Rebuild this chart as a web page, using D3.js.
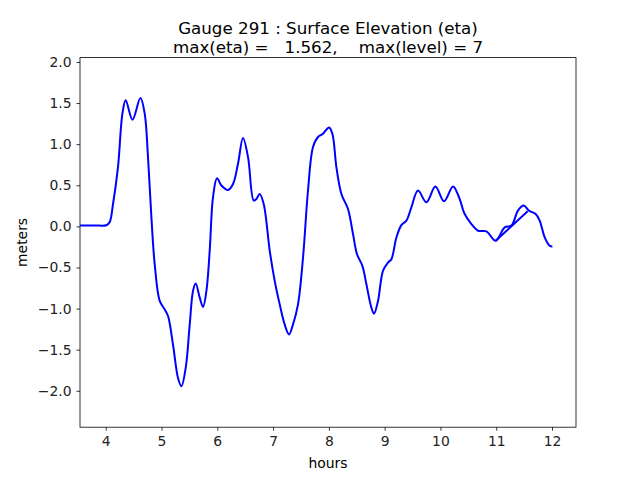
<!DOCTYPE html>
<html>
<head>
<meta charset="utf-8">
<script src="https://cdn.jsdelivr.net/npm/d3@7"></script>
<style>
  body { margin: 0; background: #fff; }
  svg { font-family: 'DejaVu Sans', sans-serif; }
</style>
</head>
<body>
<div id="box-chart"></div>
<script>
// gauge trace (hours / meters)
const hours = [3.54, 3.8, 4.01, 4.07, 4.131, 4.22, 4.299, 4.358, 4.479, 4.622, 4.699, 4.758,
  4.819, 4.878, 4.968, 5.057, 5.117, 5.206, 5.296, 5.357, 5.434, 5.506,
  5.565, 5.613, 5.685, 5.744, 5.805, 5.864, 5.923, 5.995, 6.074, 6.192,
  6.282, 6.371, 6.461, 6.551, 6.653, 6.701, 6.76, 6.832, 6.94, 7.029,
  7.119, 7.208, 7.286, 7.357, 7.447, 7.537, 7.626, 7.716, 7.805, 7.895,
  8.003, 8.063, 8.135, 8.225, 8.343, 8.433, 8.504, 8.601, 8.673, 8.762,
  8.809, 8.881, 8.97, 9.06, 9.121, 9.211, 9.3, 9.39, 9.479, 9.598,
  9.748, 9.91, 10.064, 10.225, 10.333, 10.435, 10.555, 10.673, 10.824, 10.99,
  11.152, 11.272, 11.39, 11.492, 11.587, 11.707, 11.779, 11.869, 11.958, 12.007];
const eta = [0.012, 0.012, 0.014, 0.05, 0.272, 0.72, 1.371, 1.535, 1.298, 1.562, 1.371, 0.842,
  0.11, -0.46, -0.907, -1.01, -1.09, -1.437, -1.844, -1.945, -1.721, -1.193,
  -0.785, -0.696, -0.867, -0.98, -0.785, -0.297, 0.354, 0.586, 0.497, 0.443,
  0.516, 0.761, 1.074, 0.842, 0.314, 0.333, 0.394, 0.272, -0.297, -0.663,
  -0.949, -1.193, -1.315, -1.193, -0.949, -0.379, 0.436, 0.965, 1.087, 1.127,
  1.204, 1.127, 0.72, 0.394, 0.211, -0.094, -0.338, -0.48, -0.705, -0.989,
  -1.062, -0.907, -0.541, -0.44, -0.399, -0.134, 0.016, 0.07, 0.232, 0.436,
  0.293, 0.485, 0.305, 0.485, 0.354, 0.15, 0.028, -0.053, -0.061, -0.175,
  -0.012, 0.009, 0.192, 0.253, 0.192, 0.15, 0.07, -0.134, -0.236, -0.244];

// coarse output that jumps across the last wiggle
const jumpHours = [10.99, 11.564];
const jumpEta = [-0.175, 0.183];

const xTicks = [4, 5, 6, 7, 8, 9, 10, 11, 12];
const yTicks = [-2.0, -1.5, -1.0, -0.5, 0.0, 0.5, 1.0, 1.5, 2.0];

const titleLines = ['Gauge 291 : Surface Elevation (eta)',
  'max(eta) =   1.562,    max(level) = 7'];

const width = 640, height = 480;
const margin = { top: 57.6, right: 64, bottom: 52.8, left: 80 };
const w = width - margin.left - margin.right;
const h = height - margin.top - margin.bottom;

const svg = d3.select('#box-chart').append('svg')
  .attr('width', width)
  .attr('height', height)

const g = svg.append('g')
  .attr('transform', 'translate(' + margin.left + ',' + margin.top + ')')

const x = d3.scaleLinear().domain([3.539, 12.43]).range([0, w])
const y = d3.scaleLinear().domain([-2.443, 2.053]).range([h, 0])

// axes, matplotlib look
const xAxis = g.append('g')
  .attr('transform', 'translate(0,' + h + ')')
  .call(d3.axisBottom(x).tickValues(xTicks).tickFormat(d3.format('d')).tickSize(3.5).tickPadding(5))

const yAxis = g.append('g')
  .call(d3.axisLeft(y).tickValues(yTicks).tickFormat((d) => d3.format('.1f')(d).replace('-', '\u2212')).tickSize(3.5).tickPadding(5))

;[xAxis, yAxis].forEach((a) => {
  a.select('.domain').remove()
  a.selectAll('.tick line').attr('stroke', '#000').attr('stroke-width', 0.8)
  a.selectAll('.tick text').attr('fill', '#222').style('font-size', '13.9px').style('font-family', "'DejaVu Sans', sans-serif")
})

const line = d3.line()
  .x((d) => x(d[0]))
  .y((d) => y(d[1]))

g.append('path')
  .datum(hours.map((t, i) => [t, eta[i]]))
  .attr('fill', 'none')
  .attr('stroke', '#0000ff')
  .attr('stroke-width', 2)
  .attr('d', line.curve(d3.curveCatmullRom.alpha(0.5)))

g.append('path')
  .datum(jumpHours.map((t, i) => [t, jumpEta[i]]))
  .attr('fill', 'none')
  .attr('stroke', '#0000ff')
  .attr('stroke-width', 2)
  .attr('d', d3.line().x((d) => x(d[0])).y((d) => y(d[1])))

// frame
g.append('rect')
  .attr('width', w)
  .attr('height', h)
  .attr('fill', 'none')
  .attr('stroke', '#000')
  .attr('stroke-width', 0.8)

svg.append('text')
  .attr('x', margin.left + w / 2)
  .attr('y', 468)
  .attr('text-anchor', 'middle')
  .style('font-size', '13.9px')
  .text('hours')

svg.append('text')
  .attr('transform', 'translate(27,' + (margin.top + h / 2) + ') rotate(-90)')
  .attr('text-anchor', 'middle')
  .style('font-size', '13.9px')
  .text('meters')

svg.selectAll('.title')
  .data(titleLines)
  .enter()
  .append('text')
  .attr('class', 'title')
  .attr('x', margin.left + w / 2)
  .attr('y', (d, i) => 34 + i * 18.5)
  .attr('text-anchor', 'middle')
  .style('font-size', '16.7px')
  .style('white-space', 'pre')
  .text((d) => d)
</script>
</body>
</html>
